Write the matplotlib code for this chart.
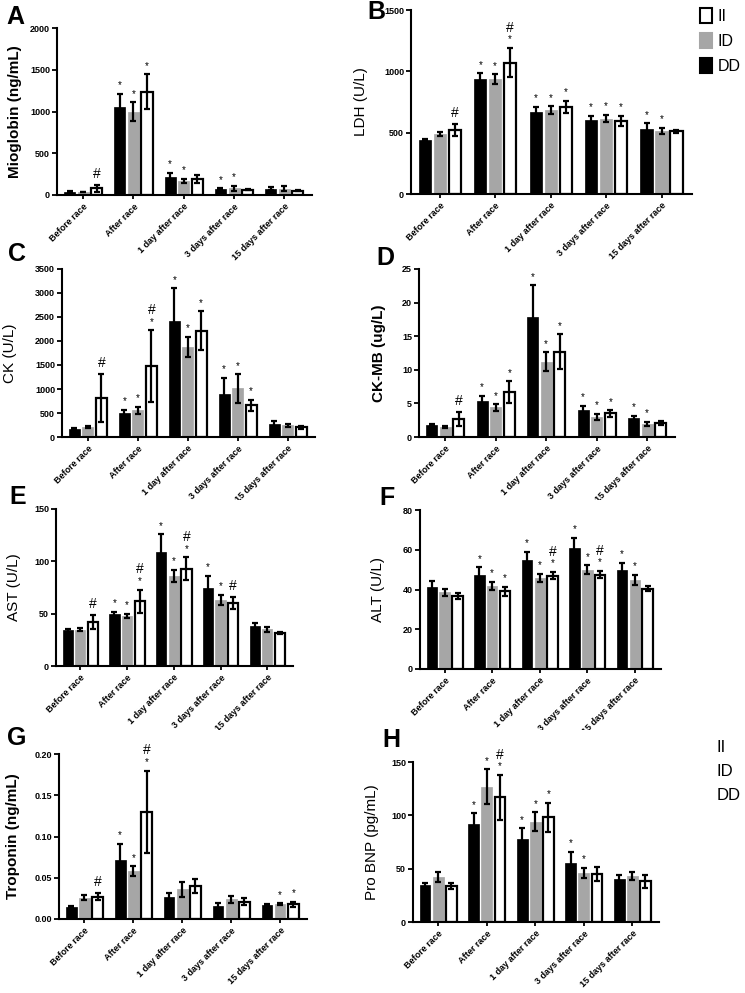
import matplotlib
matplotlib.use("Agg")
import matplotlib.pyplot as plt
import numpy as np
from matplotlib.patches import Patch
from matplotlib.transforms import Bbox, TransformedBbox

plt.rcParams['font.family'] = ['Liberation Sans', 'DejaVu Sans']

categories = ["Before race", "After race", "1 day after race", "3 days after race", "15 days after race"]
groups = ["DD", "ID", "II"]

# A - Mioglobin
mio_DD = [40, 1055, 220, 72, 75];      mio_DD_err = [5, 160, 45, 8, 15]
mio_ID = [35, 998, 168, 80, 75];       mio_ID_err = [5, 110, 25, 30, 30]
mio_II = [80, 1237, 190, 64, 50];      mio_II_err = [40, 210, 45, 10, 8]
# B - LDH
ldh_DD = [440, 937, 666, 603, 533];    ldh_DD_err = [10, 48, 45, 35, 45]
ldh_ID = [489, 937, 685, 614, 516];    ldh_ID_err = [15, 38, 30, 30, 25]
ldh_II = [522, 1071, 712, 598, 511];   ldh_II_err = [50, 120, 50, 40, 12]
# C - CK
ck_DD = [174, 502, 2420, 906, 265];    ck_DD_err = [20, 60, 680, 330, 60]
ck_ID = [209, 558, 1883, 1011, 240];   ck_ID_err = [25, 70, 210, 300, 40]
ck_II = [809, 1471, 2217, 660, 200];   ck_II_err = [500, 750, 400, 110, 25]
# D - CK-MB
ckmb_DD = [1.8, 5.3, 17.9, 4.0, 2.85]; ckmb_DD_err = [0.1, 0.8, 4.7, 0.65, 0.3]
ckmb_ID = [1.5, 4.4, 11.2, 3.0, 2.0];  ckmb_ID_err = [0.15, 0.5, 1.4, 0.45, 0.3]
ckmb_II = [2.7, 6.7, 12.7, 3.5, 2.1];  ckmb_II_err = [1.0, 1.6, 2.6, 0.5, 0.35]
# E - AST
ast_DD = [34, 50, 109, 75, 38];        ast_DD_err = [1.5, 2, 17, 11, 3]
ast_ID = [34.5, 48, 86, 63, 35];       ast_ID_err = [1.5, 2, 6, 5, 2.5]
ast_II = [42, 62, 93, 60, 31.5];       ast_II_err = [7, 11, 11, 6, 1]
# F - ALT
alt_DD = [41.5, 47.5, 55, 61, 50];     alt_DD_err = [3, 3.7, 4, 5, 3.5]
alt_ID = [38.5, 41.8, 46, 50, 45];     alt_ID_err = [2, 2.2, 2, 2.3, 2.5]
alt_II = [36.5, 39, 47, 47.5, 40.5];   alt_II_err = [1.5, 2.5, 1.8, 1.8, 1.5]
# G - Troponin
trop_DD = [0.015, 0.072, 0.027, 0.016, 0.017]; trop_DD_err = [0.001, 0.019, 0.004, 0.003, 0.001]
trop_ID = [0.026, 0.058, 0.036, 0.024, 0.018]; trop_ID_err = [0.003, 0.006, 0.009, 0.004, 0.001]
trop_II = [0.027, 0.13, 0.04, 0.021, 0.018];   trop_II_err = [0.004, 0.05, 0.008, 0.004, 0.003]
# H - Pro BNP
bnp_DD = [35, 92, 78, 55, 40];         bnp_DD_err = [2, 10, 10, 11, 4]
bnp_ID = [42, 127, 94, 46, 43];        bnp_ID_err = [4.5, 16, 9, 5, 4]
bnp_II = [34, 117, 98, 45, 38];        bnp_II_err = [3, 21, 14, 7, 6]

# significance marks per category, order DD, ID, II
mio_marks  = [["", "", "#"], ["*", "*", "*"], ["*", "*", ""], ["*", "*", ""], ["", "", ""]]
ldh_marks  = [["", "", "#"], ["*", "*", "*#"], ["*", "*", "*"], ["*", "*", "*"], ["*", "*", ""]]
ck_marks   = [["", "", "#"], ["*", "*", "*#"], ["*", "*", "*"], ["*", "*", "*"], ["", "", ""]]
ckmb_marks = [["", "", "#"], ["*", "*", "*"], ["*", "*", "*"], ["*", "*", "*"], ["*", "*", ""]]
ast_marks  = [["", "", "#"], ["*", "*", "*#"], ["*", "*", "*#"], ["*", "*", "#"], ["", "", ""]]
alt_marks  = [["", "", ""], ["*", "*", "*"], ["*", "*", "*#"], ["*", "*", "*#"], ["*", "*", ""]]
trop_marks = [["", "", "#"], ["*", "*", "*#"], ["", "", ""], ["", "", ""], ["", "*", "*"]]
bnp_marks  = [["", "", ""], ["*", "*", "*#"], ["*", "*", "*"], ["*", "*", ""], ["", "", ""]]

W, H = 745, 993
fig = plt.figure(figsize=(W / 100, H / 100), dpi=100)

def px_axes(l, r, t, b):
    return [l / W, 1 - b / H, (r - l) / W, (b - t) / H]

colors = {"DD": "black", "ID": "#a6a6a6", "II": "white"}
edges = {"DD": "black", "ID": "#a6a6a6", "II": "black"}

panels = [
    dict(letter="A", rect=(57, 312, 28, 195), means=(mio_DD, mio_ID, mio_II),
         errs=(mio_DD_err, mio_ID_err, mio_II_err), marks=mio_marks, yticks=[0, 500, 1000, 1500, 2000],
         fmt="{:g}", ylabel="Mioglobin (ng/mL)", bold=True, lab_x=15, let=(15, 17), cut=261),
    dict(letter="B", rect=(411, 692, 10, 194), means=(ldh_DD, ldh_ID, ldh_II),
         errs=(ldh_DD_err, ldh_ID_err, ldh_II_err), marks=ldh_marks, yticks=[0, 500, 1000, 1500],
         fmt="{:g}", ylabel="LDH (U/L)", bold=False, lab_x=361, let=(376, 12), cut=261),
    dict(letter="C", rect=(62, 315, 269, 437), means=(ck_DD, ck_ID, ck_II),
         errs=(ck_DD_err, ck_ID_err, ck_II_err), marks=ck_marks, yticks=list(range(0, 3501, 500)),
         fmt="{:g}", ylabel="CK (U/L)", bold=False, lab_x=10, let=(17, 254), cut=500),
    dict(letter="D", rect=(419, 675, 269, 437), means=(ckmb_DD, ckmb_ID, ckmb_II),
         errs=(ckmb_DD_err, ckmb_ID_err, ckmb_II_err), marks=ckmb_marks, yticks=[0, 5, 10, 15, 20, 25],
         fmt="{:g}", ylabel="CK-MB (ug/L)", bold=True, lab_x=379, let=(385, 258), cut=500),
    dict(letter="E", rect=(56, 293, 509, 666), means=(ast_DD, ast_ID, ast_II),
         errs=(ast_DD_err, ast_ID_err, ast_II_err), marks=ast_marks, yticks=[0, 50, 100, 150],
         fmt="{:g}", ylabel="AST (U/L)", bold=False, lab_x=14, let=(18, 497), cut=730),
    dict(letter="F", rect=(420, 661, 510, 669), means=(alt_DD, alt_ID, alt_II),
         errs=(alt_DD_err, alt_ID_err, alt_II_err), marks=alt_marks, yticks=[0, 20, 40, 60, 80],
         fmt="{:g}", ylabel="ALT (U/L)", bold=False, lab_x=378, let=(387, 498), cut=730),
    dict(letter="G", rect=(59, 307, 754, 919), means=(trop_DD, trop_ID, trop_II),
         errs=(trop_DD_err, trop_ID_err, trop_II_err), marks=trop_marks, yticks=[0, 0.05, 0.10, 0.15, 0.20],
         fmt="{:.2f}", ylabel="Troponin (ng/mL)", bold=True, lab_x=13, let=(17, 738), cut=None),
    dict(letter="H", rect=(413, 659, 762, 922), means=(bnp_DD, bnp_ID, bnp_II),
         errs=(bnp_DD_err, bnp_ID_err, bnp_II_err), marks=bnp_marks, yticks=[0, 50, 100, 150],
         fmt="{:g}", ylabel="Pro BNP (pg/mL)", bold=False, lab_x=372, let=(391, 740), cut=None),
]

x = np.arange(len(categories))
offs = [-0.27, 0.0, 0.27]
bw = 0.22

for p in panels:
    l, r, t, b = p["rect"]
    ax = fig.add_axes(px_axes(l, r, t, b))
    for gi, g in enumerate(groups):
        ax.bar(x + offs[gi], p["means"][gi], width=bw, color=colors[g], edgecolor=edges[g],
               linewidth=1.6 if g == "II" else 0.5, zorder=2)
        ax.errorbar(x + offs[gi], p["means"][gi], yerr=p["errs"][gi], fmt="none", ecolor="black",
                    elinewidth=1.6, capsize=2.2, capthick=1.6, zorder=3)
        for ci in range(len(categories)):
            m = p["marks"][ci][gi]
            if not m:
                continue
            top = p["means"][gi][ci] + p["errs"][gi][ci]
            xx = x[ci] + offs[gi]
            if "*" in m:
                ax.annotate("*", (xx, top), xytext=(0, 2.5), textcoords="offset points",
                            ha="center", va="bottom", fontsize=7, annotation_clip=False)
                if "#" in m:
                    ax.annotate("#", (xx, top), xytext=(0, 9.5), textcoords="offset points",
                                ha="center", va="bottom", fontsize=10, annotation_clip=False)
            elif "#" in m:
                ax.annotate("#", (xx, top), xytext=(0, 3), textcoords="offset points",
                            ha="center", va="bottom", fontsize=10, annotation_clip=False)
    yt = p["yticks"]
    ax.set_ylim(0, yt[-1])
    ax.set_xlim(-0.52, 4.55)
    ax.set_yticks(yt, [p["fmt"].format(v) for v in yt])
    ax.set_xticks(x, categories)
    for s in ("top", "right"):
        ax.spines[s].set_visible(False)
    for s in ("left", "bottom"):
        ax.spines[s].set_linewidth(1.5)
    ax.tick_params(axis="y", direction="out", length=3.5, width=1.3, labelsize=6.5, pad=1.5)
    ax.tick_params(axis="x", direction="out", length=3, width=1.3, labelsize=6.5, pad=2)
    for lab in ax.get_yticklabels():
        lab.set_fontweight("bold")
    for lab in ax.get_xticklabels():
        lab.set_fontweight("bold")
        lab.set_rotation(45)
        lab.set_ha("right")
        lab.set_va("top")
        lab.set_rotation_mode("anchor")
        if p["cut"] is not None:
            cb = TransformedBbox(Bbox([[0, 1 - p["cut"] / H], [1, 1]]), fig.transFigure)
            lab.set_clip_box(cb)
            lab.set_clip_on(True)
    ax.set_ylabel(p["ylabel"], fontsize=11, fontweight="bold" if p["bold"] else "normal")
    ax.yaxis.set_label_coords((p["lab_x"] - l) / (r - l), 0.5)
    ax.yaxis.label.set_va("center")
    fig.text(p["let"][0] / W, 1 - p["let"][1] / H, p["letter"], fontsize=18, fontweight="bold",
             ha="center", va="center")

handles = [Patch(facecolor=colors[g], edgecolor="black" if g != "ID" else "#a6a6a6", linewidth=1.5)
           for g in ["II", "ID", "DD"]]
fig.legend(handles, ["II", "ID", "DD"], loc="upper left", bbox_to_anchor=(700 / W, 1 - 8 / H),
           frameon=False, fontsize=11.5, handlelength=0.75, handleheight=1.1, handletextpad=0.35,
           labelspacing=0.55, borderaxespad=0, borderpad=0)

for lab, yy in zip(["II", "ID", "DD"], [747, 771, 796]):
    fig.text(717 / W, 1 - yy / H, lab, fontsize=12, ha="left", va="center")

fig.savefig("out.png", dpi=100)
